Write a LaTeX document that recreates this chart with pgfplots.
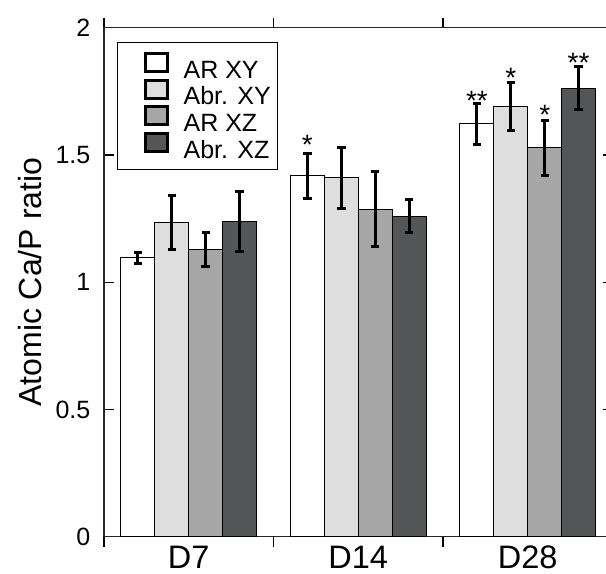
\documentclass[border=0pt]{standalone}
\usepackage{fontspec}
\setmainfont{Liberation Sans}
\usepackage{pgfplots}
\usepackage{pgfplotstable}
\pgfplotsset{compat=1.18}
\definecolor{cA}{RGB}{255,255,255}
\definecolor{cB}{RGB}{221,222,221}
\definecolor{cC}{RGB}{166,166,166}
\definecolor{cD}{RGB}{84,85,87}

\pgfplotstableread{
x arxy arxye abrxy abrxye arxz arxze abrxz abrxze
0 1.096 0.022 1.234 0.105 1.129 0.068 1.240 0.118
1 1.418 0.089 1.410 0.120 1.287 0.148 1.260 0.064
2 1.622 0.080 1.690 0.094 1.528 0.108 1.762 0.084
}\datatable

\pgfplotsset{
  sq/.style={legend image code/.code={\path (0bp,0bp); \draw[fill=#1, draw=black, line width=3bp] (20bp,-1.5bp) rectangle (42bp,16.5bp);}},
  eb/.style={error bars/.cd, y dir=both, y explicit,
    error bar style={line width=3bp, black},
    error mark options={rotate=90, mark size=4.2bp, line width=3bp, black}},
}

\begin{document}
\begin{tikzpicture}
\useasboundingbox (-104bp,-37.3bp) rectangle (502bp,536.7bp);
\clip (-104bp,-37.3bp) rectangle (502bp,536.7bp);
\begin{axis}[
  at={(0,0)}, anchor=south west,
  width=508.5bp, height=509bp, scale only axis,
  xmin=-0.5, xmax=2.5, ymin=0, ymax=2,
  ytick={0,0.5,1,1.5,2},
  xtick={-0.5,0.5,1.5,2.5}, xticklabels={},
  extra x ticks={0,1,2}, extra x tick labels={D7,D14,D28},
  extra x tick style={major tick length=0pt, tick style={draw=none}},
  tick align=inside, major tick length=10bp,
  tick style={line width=1.2bp, black},
  axis line style={line width=1.5bp, black!85},
  /pgf/number format/assume math mode=true,
  yticklabel style={font=\fontsize{25bp}{28bp}\selectfont, inner sep=0pt, xshift=-13.5bp},
  xticklabel style={font=\fontsize{32.5bp}{36bp}\selectfont, inner sep=0pt, yshift=-9bp},
  ylabel={Atomic Ca/P ratio},
  ylabel style={font=\fontsize{32bp}{36bp}\selectfont, at={(axis description cs:-0.122,0.5)}, anchor=base},
  ybar, bar width=0.2,
  legend style={at={(rel axis cs:0.0256,0.9725)}, anchor=north west,
    draw=black, line width=1.2bp, inner xsep=7bp, inner ysep=10bp,
    nodes={inner sep=0pt}, column sep=15bp, row sep=-1bp,
    font=\fontsize{25bp}{29bp}\selectfont},
  legend cell align=left,
]
\addplot[ybar, bar shift=-0.3, fill=cA, draw=black, line width=1bp, sq=cA, eb]
  table[x=x, y=arxy, y error=arxye]{\datatable};
\addlegendentry{AR XY}
\addplot[ybar, bar shift=-0.1, fill=cB, draw=black, line width=1bp, sq=cB, eb]
  table[x=x, y=abrxy, y error=abrxye]{\datatable};
\addlegendentry{Abr. XY}
\addplot[ybar, bar shift=0.1, fill=cC, draw=black, line width=1bp, sq=cC, eb]
  table[x=x, y=arxz, y error=arxze]{\datatable};
\addlegendentry{AR XZ}
\addplot[ybar, bar shift=0.3, fill=cD, draw=black, line width=1bp, sq=cD, eb]
  table[x=x, y=abrxz, y error=abrxze]{\datatable};
\addlegendentry{Abr. XZ}

\node[font=\fontsize{28bp}{30bp}\selectfont, anchor=base, yshift=-16bp] at (axis cs:0.7,1.566) {*};
\node[font=\fontsize{28bp}{30bp}\selectfont, anchor=base, yshift=-16bp] at (axis cs:1.7,1.736) {**};
\node[font=\fontsize{28bp}{30bp}\selectfont, anchor=base, yshift=-16bp] at (axis cs:1.9,1.829) {*};
\node[font=\fontsize{28bp}{30bp}\selectfont, anchor=base, yshift=-16bp] at (axis cs:2.1,1.684) {*};
\node[font=\fontsize{28bp}{30bp}\selectfont, anchor=base, yshift=-16bp] at (axis cs:2.3,1.885) {**};
\end{axis}
\end{tikzpicture}
\end{document}
